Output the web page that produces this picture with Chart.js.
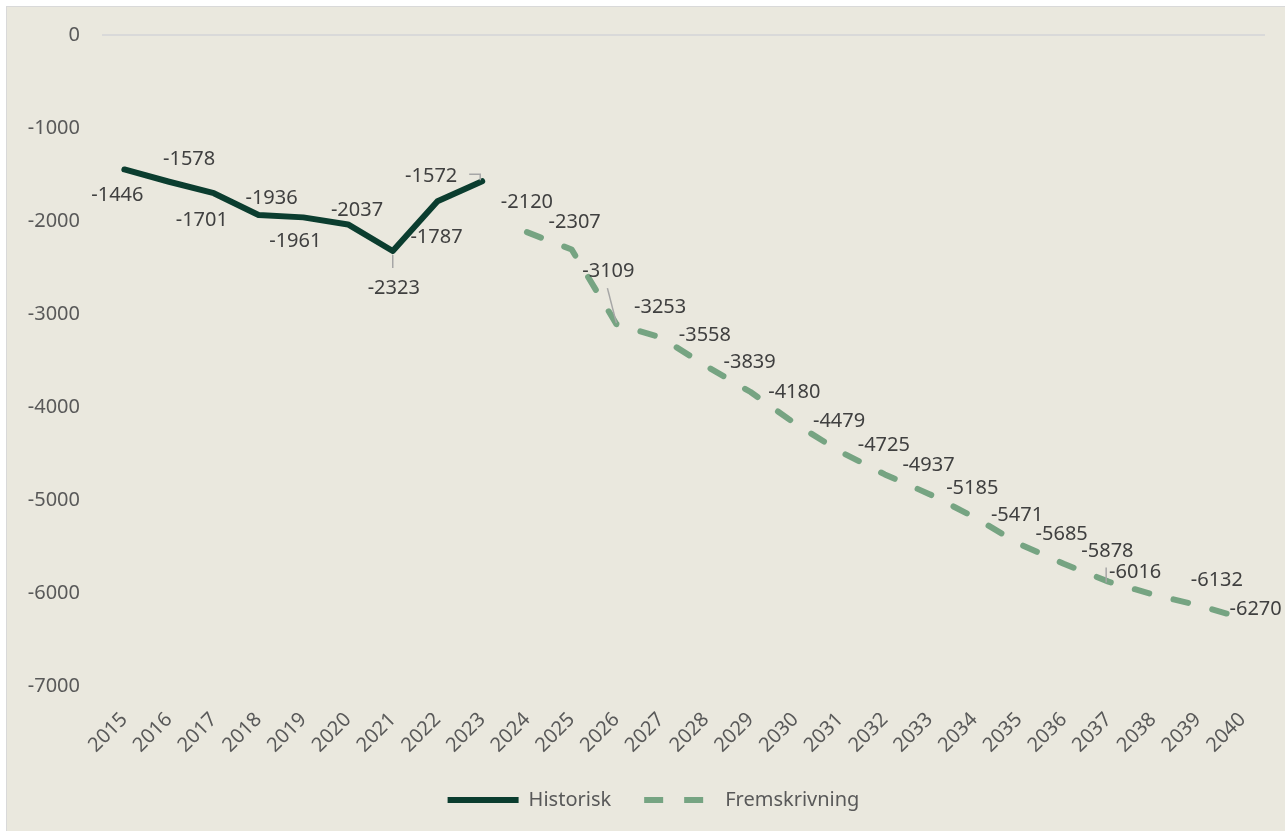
<!DOCTYPE html>
<html lang="no">
<head>
<meta charset="utf-8">
<title>Historisk og fremskrivning</title>
<script src="https://cdn.jsdelivr.net/npm/chart.js@4.4.1/dist/chart.umd.min.js"></script>
<style>
    html, body { margin: 0; padding: 0; background: #ffffff; overflow: hidden; }
    #ramme {
        position: absolute; left: 6px; top: 6px; right: 0; bottom: 0;
        background: #EAE8DE;
        border-left: 1px solid #D9D9D9;
        border-top: 1px solid #D9D9D9;
    }
</style>
</head>
<body>
<div id="ramme"><canvas id="graf"></canvas></div>
<script>
// Data lest av fra figuren
const aar = ['2015', '2016', '2017', '2018', '2019', '2020', '2021', '2022', '2023',
             '2024', '2025', '2026', '2027', '2028', '2029', '2030', '2031', '2032',
             '2033', '2034', '2035', '2036', '2037', '2038', '2039', '2040'];
const historisk = [-1446, -1578, -1701, -1936, -1961, -2037, -2323, -1787, -1572];
const fremskrivning = [-2120, -2307, -3109, -3253, -3558, -3839, -4180, -4479, -4725,
                       -4937, -5185, -5471, -5685, -5878, -6016, -6132, -6270];
const yTicks = [0, -1000, -2000, -3000, -4000, -5000, -6000, -7000];

// Plassering av dataetiketter (forskyvning i piksler fra punktet)
const histForskyvning = [[-7, 26], [20, -22], [-12, 27], [13, -17], [-8, 24], [9, -14], [1, 37], [-1, 36], [-51, -5]];
const fremForskyvning = [[0, -30], [3, -27], [-8, -53], [-1, -30], [-1, -31], [-1, -30], [-1, -31], [-1, -30],
                         [-1, -29], [-1, -29], [-2, -29], [-2, -29], [-2, -29], [-1, -30], [-18, -22], [19, -25], [13, -9]];
const hjelpelinjer = {
    '2021': [[0, 4], [0, 17]],
    '2023': [[-13, -7], [-2, -7], [-2, -1]],
    '2026': [[-9, -36], [0, -1]],
    '2038': [[-47, -27], [-47, -12]]
};

const histData = aar.map((a, i) => i < historisk.length ? historisk[i] : null);
const fremData = aar.map((a, i) => i >= historisk.length ? fremskrivning[i - historisk.length] : null);

Chart.defaults.font.family = "'Noto Sans', sans-serif";
Chart.defaults.font.size = 20;

const etiketter = {
    id: 'etiketter',
    afterDatasetsDraw(chart) {
        const ctx = chart.ctx;
        ctx.save();
        ctx.font = "20px 'Noto Sans', sans-serif";
        ctx.fillStyle = '#404040';
        ctx.textAlign = 'center';
        ctx.textBaseline = 'middle';
        chart.data.datasets.forEach((ds, i) => {
            const meta = chart.getDatasetMeta(i);
            const forskyv = i === 0 ? histForskyvning : fremForskyvning;
            let k = 0;
            meta.data.forEach((pt, j) => {
                const v = ds.data[j];
                if (v === null) return;
                const [dx, dy] = forskyv[k++];
                ctx.fillText(String(v), pt.x + dx, pt.y + dy);

                const linje = hjelpelinjer[aar[j]];
                if (linje) {
                    ctx.save();
                    ctx.strokeStyle = '#A6A6A6';
                    ctx.lineWidth = 1.5;
                    ctx.beginPath();
                    linje.forEach(([lx, ly], n) => {
                        if (n === 0) ctx.moveTo(pt.x + lx, pt.y + ly);
                        else ctx.lineTo(pt.x + lx, pt.y + ly);
                    });
                    ctx.stroke();
                    ctx.restore();
                }
            });
        });
        ctx.restore();
    }
};

new Chart(document.getElementById('graf'), {
    type: 'line',
    data: {
        labels: aar,
        datasets: [
            {
                label: 'Historisk',
                data: histData,
                borderColor: '#0B3D2F',
                backgroundColor: '#0B3D2F',
                borderWidth: 6,
                borderCapStyle: 'round',
                borderJoinStyle: 'round',
                pointRadius: 0,
                tension: 0
            },
            {
                label: 'Fremskrivning',
                data: fremData,
                borderColor: '#76A482',
                backgroundColor: '#76A482',
                borderWidth: 6,
                borderDash: [15, 25],
                borderCapStyle: 'round',
                borderJoinStyle: 'round',
                pointRadius: 0,
                tension: 0
            }
        ]
    },
    options: {
        responsive: true,
        maintainAspectRatio: false,
        animation: false,
        layout: { padding: { left: 15, right: 0, top: 28, bottom: 11 } },
        scales: {
            x: {
                offset: true,
                grid: { display: false, drawTicks: false },
                border: { display: false },
                ticks: {
                    color: '#595959',
                    minRotation: 45,
                    maxRotation: 45,
                    autoSkip: false,
                    padding: 22
                },
                afterFit(scale) { scale.height = 71; }
            },
            y: {
                min: -7000,
                max: 0,
                afterBuildTicks(scale) { scale.ticks = yTicks.map(v => ({ value: v })); },
                grid: {
                    drawTicks: false,
                    lineWidth: 2,
                    color: c => (c.tick && c.tick.value === 0) ? '#D9D9D9' : 'rgba(0,0,0,0)'
                },
                border: { display: false },
                ticks: {
                    color: '#595959',
                    padding: 22,
                    callback: v => String(v)
                },
                afterFit(scale) {
                    scale.width = 80;
                    scale.paddingTop = 0;
                    scale.paddingBottom = 0;
                }
            },
            // tom akse til høyre, gir luft mellom plottområdet og kanten
            hoyre: {
                type: 'linear',
                position: 'right',
                min: -7000,
                max: 0,
                grid: { display: false, drawTicks: false },
                border: { display: false },
                ticks: { display: false },
                afterFit(scale) { scale.width = 20; }
            }
        },
        plugins: {
            legend: {
                position: 'bottom',
                labels: {
                    color: '#595959',
                    usePointStyle: true,
                    pointStyle: 'line',
                    pointStyleWidth: 71,
                    padding: 33,
                    generateLabels(chart) {
                        const items = Chart.defaults.plugins.legend.labels.generateLabels(chart);
                        items.forEach(it => {
                            if (it.datasetIndex === 1) it.lineDash = [19, 21];
                        });
                        return items;
                    }
                }
            },
            tooltip: { enabled: false }
        }
    },
    plugins: [etiketter]
});
</script>
</body>
</html>
